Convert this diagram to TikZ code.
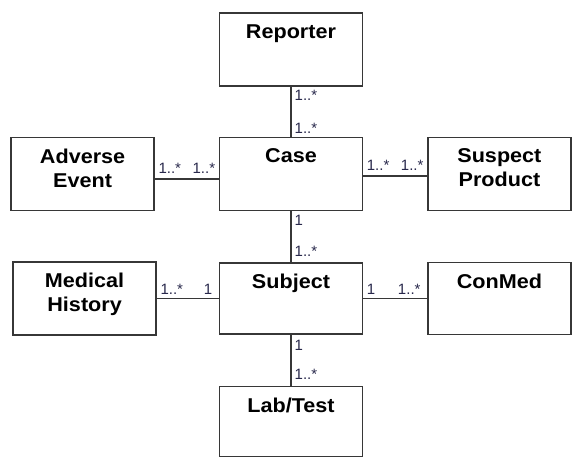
\documentclass[tikz,border=0pt]{standalone}
\usepackage{fontspec}
\setmainfont{Liberation Sans}
\newfontfamily\clsfont{Liberation Sans}[FakeStretch=1.08]
\usetikzlibrary{positioning}
\definecolor{boxline}{RGB}{55,55,55}
\definecolor{multtext}{RGB}{40,40,75}
\tikzset{
  cls/.style={draw=boxline,rectangle,minimum width=143pt,minimum height=73pt,line width=1.4pt},
  ttl/.style={font=\clsfont\bfseries\fontsize{20}{24}\selectfont,align=center,anchor=north,inner sep=0pt,yshift=-12pt},
  lnk/.style={draw=boxline,line width=1.4pt},
  vmult/.style={font=\fontsize{15}{17}\selectfont,text=multtext,inner sep=3pt},
  hmult/.style={vmult,inner ysep=5pt}
}
\begin{document}
\begin{tikzpicture}[node distance=50pt and 64pt]
  \useasboundingbox (0,0) rectangle (573pt,460pt);
  % class boxes
  \node[cls] (case) at (291pt,286pt) {};
  \node[cls, above=of case] (rep) {};
  \node[cls, left=of case] (adv) {};
  \node[cls, right=of case] (susp) {};
  \node[cls, minimum height=71pt, below=51pt of case] (subj) {};
  \node[cls, left=62pt of subj] (medh) {};
  \node[cls, minimum height=72pt, right=of subj] (conmed) {};
  \node[cls, minimum height=70pt, below=51pt of subj] (lab) {};

  \node[ttl] (repT) at (rep.north) {Reporter};
  \node[ttl] (caseT) at (case.north) {Case};
  \node[ttl] (advT) at (adv.north) {Adverse\\Event};
  \node[ttl] (suspT) at (susp.north) {Suspect\\Product};
  \node[ttl] (subjT) at (subj.north) {Subject};
  \node[ttl] (medhT) at (medh.north) {Medical\\History};
  \node[ttl] (conmedT) at (conmed.north) {ConMed};
  \node[ttl] (labT) at (lab.north) {Lab/Test};

  % associations
  \draw[lnk] (rep) -- (case)
    node[vmult,pos=0,below right] (mRep) {1..*}
    node[vmult,pos=1,above right] (mCaseA) {1..*};
  \draw[lnk] ([yshift=-5pt]adv.east) -- ([yshift=-5pt]case.west)
    node[hmult,pos=0,above right] (mAdv) {1..*}
    node[hmult,pos=1,above left] (mCaseB) {1..*};
  \draw[lnk] ([yshift=-2pt]case.east) -- ([yshift=-2pt]susp.west)
    node[hmult,pos=0,above right] (mCaseC) {1..*}
    node[hmult,pos=1,above left] (mSusp) {1..*};
  \draw[lnk] (case) -- (subj)
    node[vmult,pos=0,below right] (mCaseD) {1}
    node[vmult,pos=1,above right,yshift=2pt] (mSubjA) {1..*};
  \draw[lnk] (medh) -- (subj)
    node[vmult,pos=0,above right] (mMedh) {1..*}
    node[vmult,pos=1,above left,xshift=-3pt] (mSubjB) {1};
  \draw[lnk] (subj) -- (conmed)
    node[vmult,pos=0,above right] (mSubjC) {1}
    node[vmult,pos=1,above left,xshift=-3pt] (mConmed) {1..*};
  \draw[lnk] (subj) -- (lab)
    node[vmult,pos=0,below right,yshift=-2pt] (mSubjD) {1}
    node[vmult,pos=1,above right,yshift=2pt] (mLab) {1..*};
\end{tikzpicture}
\end{document}
